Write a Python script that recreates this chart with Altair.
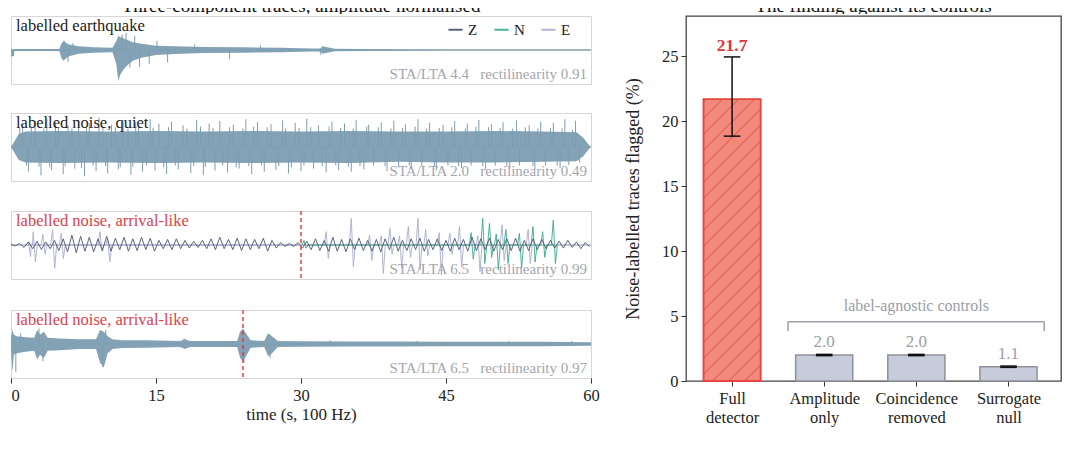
import altair as alt
import numpy as np
import pandas as pd

FONT = "Liberation Serif"

# ---------------- left: four traces (normalised amplitude, time in s) ----------------
# labelled earthquake: envelope breakpoints
quake_t = [0.0, 0.3, 0.35, 5.0, 5.2, 5.4, 6.0, 7.0, 8.5, 10.5, 10.9, 11.1, 11.3, 11.6, 12.0,
           12.6, 13.5, 15.0, 17.0, 20.0, 24.0, 28.0, 31.0, 32.0, 32.2, 33.5, 36.0, 45.0, 60.0]
quake_hi = [0.02, 0.02, 0.03, 0.03, 0.2, 0.28, 0.18, 0.12, 0.09, 0.07, 0.3, 0.45, 0.42, 0.38, 0.33,
            0.25, 0.2, 0.14, 0.12, 0.1, 0.09, 0.07, 0.05, 0.05, 0.12, 0.04, 0.03, 0.02, 0.02]
quake_lo = [-0.2, -0.2, -0.03, -0.03, -0.25, -0.35, -0.2, -0.12, -0.09, -0.07, -0.45, -1.0, -0.8, -0.65, -0.5,
            -0.35, -0.25, -0.16, -0.13, -0.1, -0.09, -0.07, -0.05, -0.05, -0.12, -0.04, -0.03, -0.02, -0.02]
quake_spike_t = [5.5, 5.9, 6.4, 11.5, 11.9, 12.3, 12.8, 13.3, 14.3, 15.1, 16.2, 19.0, 22.6, 25.8, 32.0]
quake_spike_a = [0.3, -0.38, 0.22, 0.5, 0.55, -0.57, 0.45, -0.55, -0.45, 0.3, -0.4, 0.18, -0.3, 0.15, -0.15]

# labelled noise, quiet
quiet_t = [0.0, 0.3, 0.8, 1.5, 5, 10, 15, 20, 25, 30, 35, 40, 45, 50, 55, 58.5, 59.2, 59.7, 60.0]
quiet_hi = [0.0, 0.15, 0.42, 0.5, 0.52, 0.5, 0.52, 0.5, 0.52, 0.5, 0.52, 0.5, 0.5, 0.52, 0.5, 0.48, 0.3, 0.1, 0.0]
quiet_lo = [0.0, -0.15, -0.42, -0.5, -0.52, -0.5, -0.52, -0.5, -0.52, -0.5, -0.52, -0.48, -0.5, -0.5, -0.48, -0.46, -0.3, -0.1, 0.0]
quiet_up_t = [1.2, 2.5, 3.7, 4.6, 5.9, 7.0, 8.1, 9.1, 10.4, 11.6, 12.9, 14.4, 15.3, 16.6, 17.8, 19.2,
              20.5, 21.6, 23.0, 24.3, 25.5, 26.9, 28.1, 29.4, 30.6, 31.8, 33.2, 34.5, 35.7, 37.0, 38.3,
              39.6, 40.8, 42.1, 43.3, 44.7, 45.9, 47.2, 48.4, 49.7, 50.9, 52.3, 53.6, 54.8, 56.1, 57.3, 58.4]
quiet_up_a = [0.75, 0.85, 0.92, 0.8, 0.7, 0.88, 0.78, 0.95, 0.72, 0.85, 0.8, 0.9, 0.75, 0.82, 0.7, 0.88,
              0.76, 0.84, 0.72, 0.9, 0.8, 0.74, 0.86, 0.78, 0.92, 0.7, 0.82, 0.76, 0.88, 0.72, 0.8,
              0.85, 0.74, 0.9, 0.78, 0.72, 0.84, 0.76, 0.88, 0.74, 0.8, 0.86, 0.7, 0.82, 0.78, 0.9, 0.85]
quiet_dn_t = [1.8, 3.1, 4.2, 5.4, 6.6, 7.6, 8.8, 10.0, 11.1, 12.4, 13.6, 14.9, 16.1, 17.3, 18.6, 19.9,
              21.1, 22.4, 23.6, 24.9, 26.2, 27.4, 28.7, 30.0, 31.3, 32.6, 33.9, 35.2, 36.5, 38.9,
              41.4, 44.0, 46.6, 49.1, 51.6, 54.2, 56.8]
quiet_dn_a = [-0.8, -0.92, -0.75, -0.88, -0.7, -0.95, -0.78, -0.85, -0.72, -0.9, -0.8, -0.76, -0.88, -0.72, -0.84, -0.9,
              -0.76, -0.82, -0.7, -0.88, -0.8, -0.74, -0.86, -0.78, -0.7, -0.82, -0.75, -0.8, -0.72, -0.78,
              -0.7, -0.76, -0.68, -0.72, -0.7, -0.74, -0.68]
# shorter fringe wiggles on the quiet trace
quiet_fr_t = [0.9, 1.6, 2.1, 2.9, 3.4, 4.0, 4.9, 5.6, 6.3, 7.3, 7.8, 8.5, 9.5, 9.8, 10.8, 11.3, 12.1, 12.6,
              13.2, 14.0, 14.7, 15.8, 16.3, 17.0, 18.2, 18.9, 19.6, 20.1, 20.9, 21.9, 22.6, 23.3, 24.0, 24.6,
              25.1, 25.9, 26.5, 27.7, 28.4, 29.0, 29.8, 30.3, 31.0, 32.2, 32.9, 33.6, 34.1, 34.9, 35.4, 36.1,
              36.8, 37.5, 38.0, 38.7, 39.3, 40.1, 40.5, 41.2, 41.8, 42.5, 43.0, 43.8, 44.3, 45.2, 45.6, 46.3,
              47.0, 47.6, 48.1, 48.8, 49.4, 50.1, 50.6, 51.3, 51.9, 52.6, 53.2, 54.0, 54.5, 55.3, 55.8, 56.5,
              57.0, 57.7, 58.1, 58.8]
quiet_fr_a = [0.62, -0.6, 0.66, -0.64, 0.6, -0.66, 0.64, -0.62, 0.6, -0.68, 0.62, -0.6, 0.66, -0.62, 0.64, -0.66,
              0.6, -0.64, 0.68, -0.6, 0.62, -0.66, 0.64, -0.6, 0.6, -0.62, 0.66, -0.64, 0.62, -0.6, 0.64, -0.66,
              0.6, -0.62, 0.66, -0.6, 0.64, -0.62, 0.6, -0.66, 0.62, -0.6, 0.64, -0.62, 0.66, -0.6, 0.62, -0.64,
              0.6, -0.62, 0.66, -0.6, 0.64, -0.62, 0.6, -0.64, 0.62, -0.6, 0.66, -0.62, 0.6, -0.64, 0.62, -0.6,
              0.64, -0.62, 0.6, -0.6, 0.66, -0.62, 0.64, -0.6, 0.62, -0.64, 0.6, -0.6, 0.64, -0.62, 0.6, -0.6,
              0.62, -0.6, 0.6, -0.58, 0.56, -0.5]

# labelled noise, arrival-like (second example): envelope breakpoints
burst_t = [0.0, 0.15, 0.3, 0.6, 1.5, 2.4, 2.7, 3.0, 3.4, 3.8, 5.0, 7.0, 8.8, 9.2, 9.6, 10.0, 10.5, 11.5,
           14.0, 17.5, 18.0, 18.5, 21.0, 23.4, 23.7, 24.0, 24.3, 24.8, 26.2, 26.6, 27.0, 27.6,
           30.0, 35.0, 40.0, 45.0, 50.0, 55.0, 60.0]
burst_hi = [0.2, 0.45, 0.3, 0.25, 0.22, 0.2, 0.45, 0.3, 0.4, 0.2, 0.18, 0.15, 0.15, 0.45, 0.4, 0.25, 0.15, 0.12,
            0.12, 0.1, 0.15, 0.1, 0.1, 0.1, 0.4, 0.5, 0.35, 0.12, 0.1, 0.35, 0.25, 0.1,
            0.09, 0.08, 0.08, 0.07, 0.07, 0.07, 0.06]
burst_lo = [-0.2, -0.9, -0.35, -0.3, -0.25, -0.22, -0.5, -0.35, -0.45, -0.22, -0.2, -0.16, -0.16, -0.6, -0.75, -0.3, -0.16, -0.13,
            -0.12, -0.1, -0.16, -0.1, -0.1, -0.1, -0.45, -0.55, -0.4, -0.12, -0.1, -0.4, -0.3, -0.1,
            -0.09, -0.08, -0.08, -0.07, -0.07, -0.07, -0.06]
burst_spike_t = [0.5, 1.0, 2.9, 3.3, 9.5, 9.8, 17.9, 24.1, 26.8, 33.0, 42.0, 51.5, 58.0]
burst_spike_a = [-0.9, 0.35, 0.5, -0.55, -0.75, 0.45, 0.18, -0.6, -0.45, 0.12, 0.1, 0.1, 0.1]

# labelled noise, arrival-like (first example): Z wiggle every 0.45 s, E and N spikes
z_step = 0.45
z_vals = [0.02, -0.03, 0.05, -0.08, 0.1, -0.12, 0.12, -0.15, 0.1, -0.12, 0.15, -0.18, 0.2, -0.22,
          0.32, -0.25, 0.28, -0.2, 0.25, -0.22, 0.2, -0.18, 0.28, -0.2, 0.22, -0.15, 0.25, -0.2,
          0.2, -0.18, 0.25, -0.15, 0.22, -0.2, 0.15, -0.12, 0.18, -0.15, 0.2, -0.12, 0.15, -0.1,
          0.12, -0.08, 0.15, -0.12, 0.2, -0.15, 0.25, -0.12, 0.18, -0.15, 0.22, -0.18, 0.2, -0.15,
          0.18, -0.12, 0.22, -0.2, 0.15, -0.1, 0.08, -0.05, 0.05, -0.05, 0.08, -0.1, 0.12, -0.15,
          0.2, -0.18, 0.15, -0.2, 0.25, -0.2, 0.18, -0.22, 0.2, -0.15, 0.22, -0.18, 0.15, -0.2,
          0.18, -0.22, 0.2, -0.15, 0.25, -0.2, 0.15, -0.18, 0.2, -0.15, 0.22, -0.2, 0.18, -0.15,
          0.2, -0.18, 0.15, -0.2, 0.22, -0.15, 0.18, -0.2, 0.25, -0.18, 0.2, -0.15, 0.22, -0.2,
          0.18, -0.15, 0.2, -0.18, 0.22, -0.2, 0.15, -0.18, 0.2, -0.15, 0.18, -0.12, 0.15, -0.1,
          0.12, -0.1, 0.15, -0.08, 0.1, -0.12, 0.08, -0.05]
e_t = [1.8, 2.3, 3.3, 4.3, 5.2, 9.2, 10.0, 32.6, 35.2, 37.1, 38.3, 39.2, 40.2, 41.1, 42.1, 42.9,
       44.3, 45.4, 46.4, 48.3, 50.8, 53.5]
e_up = [0.1, 0.43, 0.35, 0.49, 0.38, 0.43, 0.2, 0.43, 0.86, 0.32, 0.3, 0.54, 0.3, 0.6, 0.86, 0.5,
        0.4, 0.38, 0.6, 0.3, 0.65, 0.5]
e_dn = [-0.38, -0.54, -0.3, -0.75, -0.43, -0.2, -0.54, -0.43, -0.7, -0.5, -0.92, -0.3, -0.75, -0.4, -0.8, -0.35,
        -0.97, -0.3, -0.7, -0.86, -0.5, -0.6]
n_t = [30.3, 47.6, 48.8, 49.5, 50.2, 51.2, 52.6, 54.0, 55.0, 56.1]
n_up = [0.15, 0.4, 0.86, 0.7, 0.35, 0.5, 0.38, 0.6, 0.43, 0.8]
n_dn = [-0.1, -0.45, -0.6, -0.4, -0.8, -0.6, -0.75, -0.55, -0.4, -0.6]

left_title = "Three-component traces, amplitude normalised"
right_title = "The finding against its controls"
panel_titles = ["labelled earthquake", "labelled noise, quiet",
                "labelled noise, arrival-like", "labelled noise, arrival-like"]
panel_title_colors = ["#222222", "#222222", "#e0404a", "#e0404a"]
panel_stats = ["STA/LTA 4.4\u00a0\u00a0\u00a0rectilinearity 0.91",
               "STA/LTA 2.0\u00a0\u00a0\u00a0rectilinearity 0.49",
               "STA/LTA 6.5\u00a0\u00a0\u00a0rectilinearity 0.99",
               "STA/LTA 6.5\u00a0\u00a0\u00a0rectilinearity 0.97"]
pick_times = [None, None, 30.0, 24.0]

components = ["Z", "N", "E"]
comp_colors = ["#4b5470", "#3aab8c", "#a9adcf"]

# ---------------- right: flag rates ----------------
methods = ["Full detector", "Amplitude only", "Coincidence removed", "Surrogate null"]
rates = [21.7, 2.0, 2.0, 1.1]
err_lo = [18.85, 1.95, 1.95, 1.05]
err_hi = [24.95, 2.05, 2.05, 1.15]

W_L, H_P = 580, 68
W_R, H_R = 375, 365
STRIP_H = 7
TRACE_COL = "#7c9db1"

xs_t = alt.Scale(domain=[0, 60], nice=False, zero=False)
ys_t = alt.Scale(domain=[-1.1, 1.1], nice=False, zero=False)


def title_strip(s, width):
    # thin clipped strip: only the lower part of the title shows, as in the cropped original
    return alt.Chart(pd.DataFrame({"s": [s]})).mark_text(
        font=FONT, fontSize=19, color="#111", align="center", baseline="alphabetic", clip=True
    ).encode(x=alt.value(width / 2), y=alt.value(5), text="s:N").properties(
        width=width, height=STRIP_H, view=alt.ViewBackground(stroke="transparent"))


def time_axis(bottom):
    if not bottom:
        return None
    return alt.Axis(values=[0, 15, 30, 45, 60], title="time (s, 100 Hz)", grid=False, domain=False,
                    tickColor="#333", tickSize=5, labelFontSize=16.5, titleFontSize=17,
                    labelColor="#222", titleColor="#222", labelPadding=4, titlePadding=3,
                    labelAlign=alt.condition("datum.value == 0", alt.value("left"), alt.value("center")))


def spikes_frame(ts, amps):
    return pd.DataFrame({"t": ts, "a": amps, "zero": 0.0})


def trace_panel(i, env=None, spikes=None, lines=None, bottom=False):
    xa = time_axis(bottom)
    layers = [alt.Chart(pd.DataFrame({"y": [0.0]})).mark_rule(color="#6d7b89", strokeWidth=0.8)
              .encode(y=alt.Y("y:Q", scale=ys_t, axis=None))]
    if env is not None:
        layers.append(alt.Chart(env).mark_area(color=TRACE_COL, opacity=0.95, interpolate="linear").encode(
            x=alt.X("t:Q", scale=xs_t, axis=xa), y=alt.Y("hi:Q", scale=ys_t, axis=None), y2="lo:Q"))
    for sp in spikes or []:
        layers.append(alt.Chart(sp).mark_rule(color=TRACE_COL, strokeWidth=1).encode(
            x=alt.X("t:Q", scale=xs_t, axis=xa), y=alt.Y("a:Q", scale=ys_t, axis=None), y2="zero:Q"))
    for ln in lines or []:
        layers.append(alt.Chart(ln).mark_line(strokeWidth=1, opacity=0.9).encode(
            x=alt.X("t:Q", scale=xs_t, axis=xa), y=alt.Y("v:Q", scale=ys_t, axis=None),
            color=alt.Color("comp:N", scale=alt.Scale(domain=components, range=comp_colors),
                            legend=alt.Legend(orient="none", legendX=436, legendY=14, direction="horizontal",
                                              title=None, symbolType="stroke", symbolStrokeWidth=2,
                                              symbolSize=200, labelFontSize=15, labelFont=FONT,
                                              columnPadding=12, labelColor="#222"))))
    if pick_times[i] is not None:
        layers.append(alt.Chart(pd.DataFrame({"t": [pick_times[i]]}))
                      .mark_rule(color="#e0363c", strokeWidth=1.4, strokeDash=[4, 3])
                      .encode(x=alt.X("t:Q", scale=xs_t, axis=xa)))
    layers.append(alt.Chart(pd.DataFrame({"s": [panel_titles[i]]})).mark_text(
        align="left", baseline="top", font=FONT, fontSize=16.5, color=panel_title_colors[i]
    ).encode(x=alt.value(5), y=alt.value(2), text="s:N"))
    layers.append(alt.Chart(pd.DataFrame({"s": [panel_stats[i]]})).mark_text(
        align="right", baseline="bottom", font=FONT, fontSize=15, color="#a2a6ae"
    ).encode(x=alt.value(W_L - 4), y=alt.value(H_P - 2), text="s:N"))
    return alt.layer(*layers).properties(width=W_L, height=H_P,
                                         view=alt.ViewBackground(stroke="#d6d6d6", strokeWidth=1))


quake_env = pd.DataFrame({"t": quake_t, "hi": quake_hi, "lo": quake_lo})
quiet_env = pd.DataFrame({"t": quiet_t, "hi": quiet_hi, "lo": quiet_lo})
burst_env = pd.DataFrame({"t": burst_t, "hi": burst_hi, "lo": burst_lo})

z_df = pd.DataFrame({"t": np.arange(len(z_vals)) * z_step, "v": z_vals, "comp": "Z"})


def spike_line(ts, ups, dns, comp):
    rows = []
    for t, up, dn in zip(ts, ups, dns):
        rows += [(t - 0.2, 0.0), (t, up), (t + 0.22, dn), (t + 0.42, 0.0)]
    df = pd.DataFrame(rows, columns=["t", "v"])
    df["comp"] = comp
    return df


e_df = spike_line(e_t, e_up, e_dn, "E")
n_df = spike_line(n_t, n_up, n_dn, "N")

p1 = trace_panel(0, env=quake_env, spikes=[spikes_frame(quake_spike_t, quake_spike_a)])
p2 = trace_panel(1, env=quiet_env, spikes=[spikes_frame(quiet_fr_t, quiet_fr_a),
                                           spikes_frame(quiet_up_t, quiet_up_a),
                                           spikes_frame(quiet_dn_t, quiet_dn_a)])
p3 = trace_panel(2, lines=[e_df, n_df, z_df])
p4 = trace_panel(3, env=burst_env, spikes=[spikes_frame(burst_spike_t, burst_spike_a)], bottom=True)

left = alt.vconcat(title_strip(left_title, W_L), alt.vconcat(p1, p2, p3, p4, spacing=27), spacing=0)

# ---------------- bar chart ----------------
bar_df = pd.DataFrame({"pos": np.arange(4), "rate": rates, "lo": err_lo, "hi": err_hi,
                       "kind": ["full", "ctrl", "ctrl", "ctrl"]})
bar_df["x0"] = bar_df["pos"] - 0.31
bar_df["x1"] = bar_df["pos"] + 0.31
bar_df["c0"] = bar_df["pos"] - 0.09
bar_df["c1"] = bar_df["pos"] + 0.09
bar_df["zero"] = 0.0
bar_df["top"] = bar_df[["rate", "hi"]].max(axis=1)
bar_df["txt"] = [f"{r:.1f}" for r in rates]

xs_b = alt.Scale(domain=[-0.5, 3.57], nice=False, zero=False)
ys_b = alt.Scale(domain=[0, 28.1], nice=False, zero=False)
label_list = "[" + ",".join(f"'{m}'" for m in methods) + "]"
x_axis = alt.Axis(values=[0, 1, 2, 3], title=None, grid=False, domain=False, tickColor="#333", tickSize=5,
                  labelExpr=f"split({label_list}[datum.value], ' ')", labelFontSize=16.5,
                  labelLineHeight=19, labelColor="#222", labelPadding=4)
y_axis = alt.Axis(values=[0, 5, 10, 15, 20, 25], title="Noise-labelled traces flagged (%)", grid=False,
                  domain=False, tickColor="#333", tickSize=5, labelFontSize=16.5, titleFontSize=18,
                  labelColor="#222", titleColor="#222", labelPadding=3, titlePadding=19)


def bx(field):
    return alt.X(field, scale=xs_b, axis=x_axis)


def by(field):
    return alt.Y(field, scale=ys_b, axis=y_axis)


bars = alt.Chart(bar_df).mark_bar(strokeWidth=1.5).encode(
    x=bx("x0:Q"), x2="x1:Q", y=by("rate:Q"), y2="zero:Q",
    fill=alt.Fill("kind:N", scale=alt.Scale(domain=["full", "ctrl"], range=["#f2897c", "#c8ccda"]), legend=None),
    stroke=alt.Stroke("kind:N", scale=alt.Scale(domain=["full", "ctrl"], range=["#e8443c", "#8c919c"]), legend=None),
)

# '//' hatching for the full-detector bar, 45 degrees in screen space
px_x = W_R / (xs_b.domain[1] - xs_b.domain[0])
px_y = H_R / (ys_b.domain[1] - ys_b.domain[0])
bw = 0.62 * px_x
bh = rates[0] * px_y
hatch = []
for c in np.arange(-bw, bh, 16.0):
    a0, a1 = max(0.0, -c), min(bw, bh - c)
    if a1 > a0:
        hatch.append({"x": -0.31 + a0 / px_x, "x2": -0.31 + a1 / px_x,
                      "y": (a0 + c) / px_y, "y2": (a1 + c) / px_y})
hatch_lines = alt.Chart(pd.DataFrame(hatch)).mark_rule(color="#c8362f", strokeWidth=1, opacity=0.7).encode(
    x=bx("x:Q"), x2="x2:Q", y=by("y:Q"), y2="y2:Q")
bar_edge = alt.Chart(bar_df.iloc[:1]).mark_bar(fillOpacity=0, stroke="#e8443c", strokeWidth=1.5).encode(
    x=bx("x0:Q"), x2="x1:Q", y=by("rate:Q"), y2="zero:Q")

err_v = alt.Chart(bar_df).mark_rule(color="#111", strokeWidth=1.5).encode(x=bx("pos:Q"), y=by("lo:Q"), y2="hi:Q")
cap_lo = alt.Chart(bar_df).mark_rule(color="#111", strokeWidth=1.5).encode(x=bx("c0:Q"), x2="c1:Q", y=by("lo:Q"))
cap_hi = alt.Chart(bar_df).mark_rule(color="#111", strokeWidth=1.5).encode(x=bx("c0:Q"), x2="c1:Q", y=by("hi:Q"))

txt_full = alt.Chart(bar_df).transform_filter("datum.kind == 'full'").mark_text(
    font=FONT, fontSize=17.5, fontWeight="bold", color="#e0363c", baseline="alphabetic", dy=-6
).encode(x=bx("pos:Q"), y=by("top:Q"), text="txt:N")
txt_ctrl = alt.Chart(bar_df).transform_filter("datum.kind == 'ctrl'").mark_text(
    font=FONT, fontSize=17, color="#9a9ea7", baseline="alphabetic", dy=-7
).encode(x=bx("pos:Q"), y=by("top:Q"), text="txt:N")

# bracket over the three label-agnostic controls
br = pd.DataFrame({"x": [0.607], "x2": [3.388], "y": [4.56], "yb": [3.85], "tx": [2.0], "ty": [5.79],
                   "s": ["label-agnostic controls"]})
br_h = alt.Chart(br).mark_rule(color="#9a9ea7", strokeWidth=1.5).encode(x=bx("x:Q"), x2="x2:Q", y=by("y:Q"))
br_l = alt.Chart(br).mark_rule(color="#9a9ea7", strokeWidth=1.5).encode(x=bx("x:Q"), y=by("y:Q"), y2="yb:Q")
br_r = alt.Chart(br).mark_rule(color="#9a9ea7", strokeWidth=1.5).encode(x=bx("x2:Q"), y=by("y:Q"), y2="yb:Q")
br_t = alt.Chart(br).mark_text(font=FONT, fontSize=16, color="#9a9ea7").encode(
    x=bx("tx:Q"), y=by("ty:Q"), text="s:N")

bar_panel = alt.layer(bars, hatch_lines, bar_edge, err_v, cap_lo, cap_hi, txt_full, txt_ctrl,
                      br_h, br_l, br_r, br_t).properties(
    width=W_R, height=H_R, view=alt.ViewBackground(stroke="#444", strokeWidth=1.3))
right = alt.vconcat(title_strip(right_title, W_R), bar_panel, spacing=0)

chart = alt.hconcat(left, right, spacing=23).properties(
    padding={"left": 0, "top": -2, "right": 5, "bottom": 5}
).configure(font=FONT).configure_axis(labelFont=FONT, titleFont=FONT, titleFontWeight="normal")

chart.save("out.html", embed_options={"renderer": "svg", "actions": False})
